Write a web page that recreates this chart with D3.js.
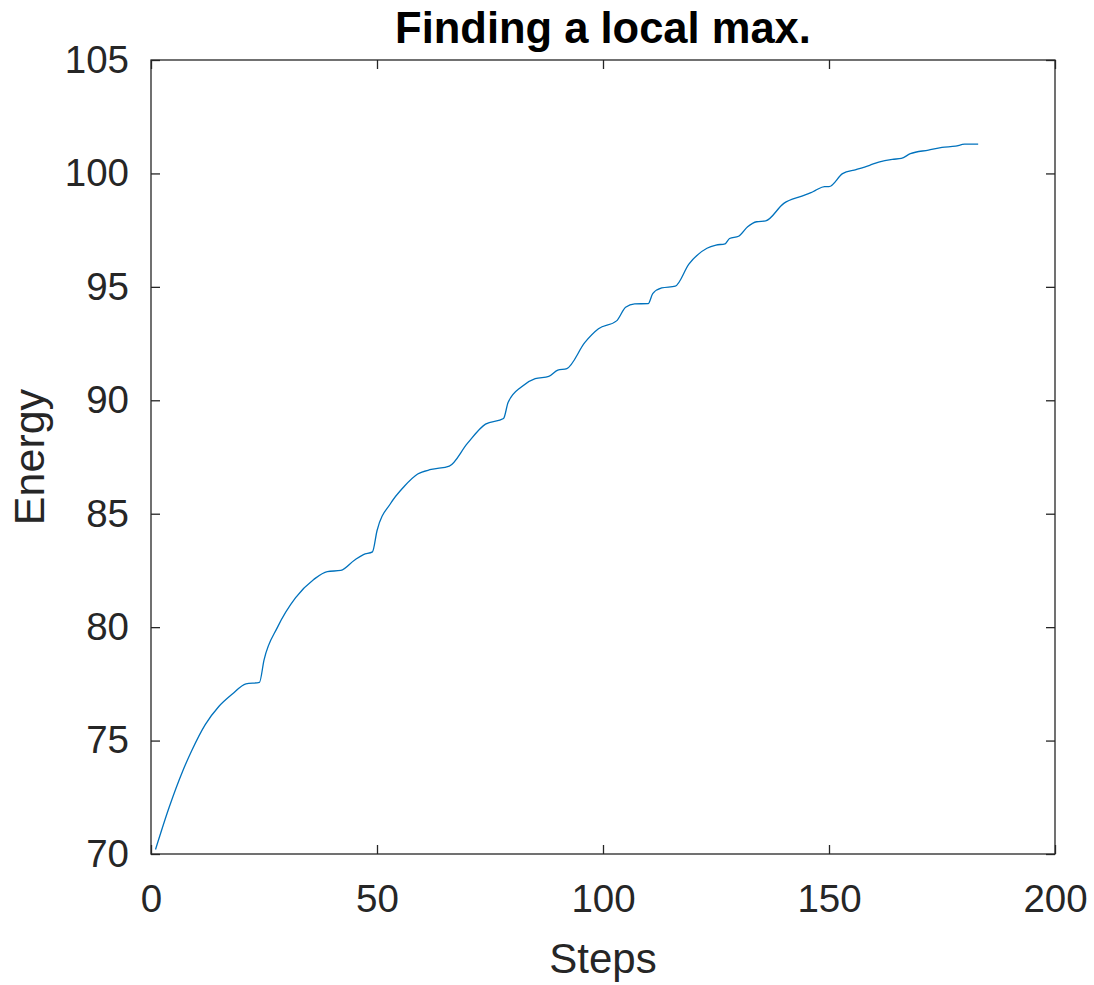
<!DOCTYPE html>
<html>
<head>
<meta charset="utf-8">
<script src="https://cdn.jsdelivr.net/npm/d3@7"></script>
<style>
  body { margin: 0; background: #fff; }
  text { font-family: "Liberation Sans", Arial, sans-serif; fill: #262626; }
</style>
</head>
<body>
<div id="chart"></div>
<script>
// values
const steps = [1, 4, 7, 9, 12, 15, 18, 21, 24, 25, 28, 32, 36, 39, 42, 45, 47, 49, 50, 53,
    56, 59, 62, 66, 70, 74, 78, 79, 82, 85, 88, 90, 92, 96, 99, 103, 105, 107, 110, 111,
    113, 116, 119, 123, 125, 127, 128, 130, 132, 134, 136, 140, 144, 146, 147, 149, 150, 153, 156, 159,
    161, 164, 166, 168, 172, 175, 178, 180, 183];
const energy = [70.2, 72.05, 73.65, 74.55, 75.7, 76.5, 77.05, 77.5, 77.57, 78.55, 80.0, 81.3, 82.1, 82.45, 82.5, 82.95, 83.2, 83.32, 84.25, 85.45,
    86.2, 86.75, 86.95, 87.1, 88.1, 88.95, 89.2, 89.9, 90.6, 90.95, 91.05, 91.33, 91.4, 92.55, 93.15, 93.5, 94.1, 94.25, 94.26, 94.7,
    94.95, 95.03, 96.0, 96.7, 96.84, 96.9, 97.13, 97.23, 97.65, 97.87, 97.91, 98.68, 99.0, 99.15, 99.25, 99.42, 99.42, 99.99, 100.17, 100.36,
    100.5, 100.62, 100.66, 100.87, 101.03, 101.15, 101.2, 101.29, 101.29];
const xTicks = [0, 50, 100, 150, 200];
const yTicks = [70, 75, 80, 85, 90, 95, 100, 105];

const data = steps.map((s, i) => ({step: s, energy: energy[i]}));

const margin = {top: 60, right: 39, bottom: 131, left: 151};
const width = 1094 - margin.left - margin.right;
const height = 985 - margin.top - margin.bottom;

const svg = d3.select("#chart").append("svg")
    .attr("width", 1094)
    .attr("height", 985);

const g = svg.append("g")
    .attr("transform", "translate(" + margin.left + "," + margin.top + ")");

const x = d3.scaleLinear().domain([0, 200]).range([0, width]);
const y = d3.scaleLinear().domain([70, 105]).range([height, 0]);

const fontSize = 38.5;
const axisColor = "#262626";

// inward ticks on all four sides
function styleAxis(sel) {
    sel.select(".domain").remove();
    sel.selectAll(".tick line").attr("stroke", axisColor).attr("stroke-width", 1.3);
    sel.selectAll(".tick text")
        .style("font-size", fontSize + "px")
        .style("font-family", '"Liberation Sans", Arial, sans-serif')
        .attr("fill", axisColor);
}

g.append("g")
    .attr("transform", "translate(0," + height + ")")
    .call(d3.axisBottom(x).tickValues(xTicks).tickSize(-9).tickPadding(31))
    .call(styleAxis);

g.append("g")
    .call(d3.axisLeft(y).tickValues(yTicks).tickSize(-9).tickPadding(22))
    .call(styleAxis);

g.append("g")
    .call(d3.axisTop(x).tickValues(xTicks).tickSize(-9).tickFormat(""))
    .call(styleAxis);

g.append("g")
    .attr("transform", "translate(" + width + ",0)")
    .call(d3.axisRight(y).tickValues(yTicks).tickSize(-9).tickFormat(""))
    .call(styleAxis);

// box
g.append("rect")
    .attr("width", width)
    .attr("height", height)
    .attr("fill", "none")
    .attr("stroke", axisColor)
    .attr("stroke-width", 1.3);

// the line
const line = d3.line()
    .x(d => x(d.step))
    .y(d => y(d.energy))
    .curve(d3.curveMonotoneX);

g.append("path")
    .datum(data)
    .attr("d", line)
    .attr("fill", "none")
    .attr("stroke", "#0072BD")
    .attr("stroke-width", 1.3)
    .attr("stroke-linejoin", "round");

// title and labels
svg.append("text")
    .attr("x", margin.left + width / 2)
    .attr("y", 43)
    .attr("text-anchor", "middle")
    .style("font-size", "43.5px")
    .style("font-weight", "bold")
    .style("fill", "#000")
    .text("Finding a local max.");

svg.append("text")
    .attr("x", margin.left + width / 2)
    .attr("y", 973)
    .attr("text-anchor", "middle")
    .style("font-size", "42px")
    .text("Steps");

svg.append("text")
    .attr("transform", "rotate(-90)")
    .attr("x", -(margin.top + height / 2))
    .attr("y", 44)
    .attr("text-anchor", "middle")
    .style("font-size", "43px")
    .text("Energy");
</script>
</body>
</html>
